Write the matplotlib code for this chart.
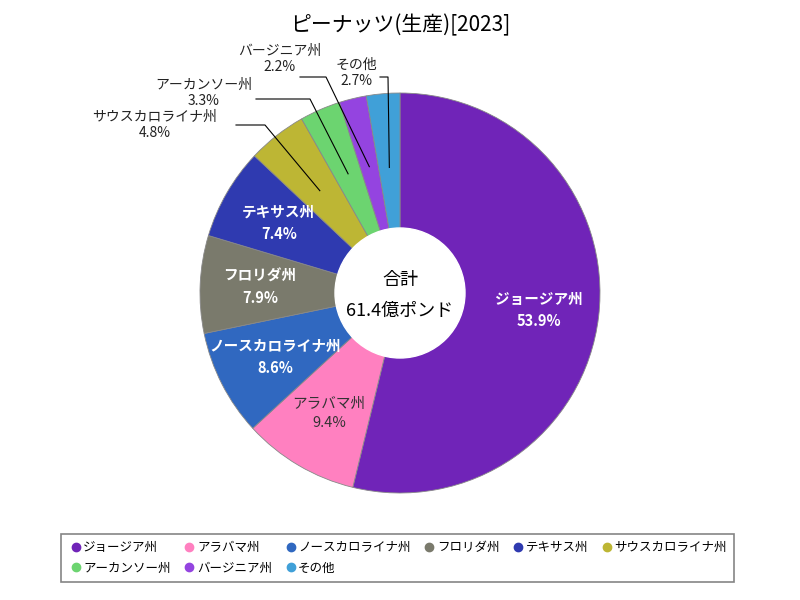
import matplotlib.pyplot as plt
from matplotlib.lines import Line2D
import numpy as np

plt.rcParams['font.family'] = ['Noto Sans CJK JP', 'DejaVu Sans']

# data
labels = ['ジョージア州', 'アラバマ州', 'ノースカロライナ州', 'フロリダ州', 'テキサス州',
          'サウスカロライナ州', 'アーカンソー州', 'バージニア州', 'その他']
shares = [53.9, 9.4, 8.6, 7.9, 7.4, 4.8, 3.3, 2.2, 2.7]
colors = ['#7024b8', '#ff80c0', '#3068c0', '#7a7a6c', '#2f3ab0',
          '#bdb634', '#6cd470', '#9444e0', '#40a0d8']
total_text = '61.4億ポンド'

fig = plt.figure(figsize=(8, 6), dpi=100)
ax = fig.add_axes([0, 0, 1, 1])

wedges, _ = ax.pie(shares, colors=colors, startangle=90, counterclock=False,
                   radius=1.0, wedgeprops=dict(edgecolor='#888888', linewidth=0.6))
ax.add_patch(plt.Circle((0, 0), 0.325, color='white', zorder=5))
ax.set_xlim(-2, 2)
ax.set_ylim(-1.535, 1.465)
ax.set_aspect('auto')
ax.axis('off')

# inner labels
tot = sum(shares)
ang = 90.0
mids = []
for v in shares:
    a = ang - 360 * v / tot / 2
    mids.append(np.deg2rad(a))
    ang -= 360 * v / tot

inner_col = ['white', '#333333', 'white', 'white', 'white']
for i in range(5):
    x, y = 0.7 * np.cos(mids[i]), 0.7 * np.sin(mids[i])
    ax.text(x, y, f'{labels[i]}\n{shares[i]}%', ha='center', va='center',
            color=inner_col[i], fontsize=10.5, linespacing=1.5,
            fontweight='bold' if inner_col[i] == 'white' else 'normal', zorder=6)

# outer labels with leader lines
outer = {5: ((-1.225, 0.84), (-0.82, 0.84), (-0.675, 0.84)),
         6: ((-0.98, 1.0), (-0.72, 0.97), (-0.45, 0.97)),
         7: ((-0.60, 1.17), (-0.50, 1.08), (-0.37, 1.08)),
         8: ((-0.22, 1.10), (-0.10, 1.08), (-0.06, 1.08))}
for i, (tpos, p0, p1) in outer.items():
    r = 0.65 if i != 8 else 0.63
    px, py = r * np.cos(mids[i]), r * np.sin(mids[i])
    ax.plot([p0[0], p1[0], px], [p0[1], p1[1], py], color='black', lw=0.8, zorder=3)
    ax.text(tpos[0], tpos[1], f'{labels[i]}\n{shares[i]}%', ha='center', va='center',
            color='#222222', fontsize=10, linespacing=1.15, zorder=7)

ax.text(0, 0.065, '合計', ha='center', va='center', fontsize=13, zorder=8)
ax.text(0, -0.09, total_text, ha='center', va='center', fontsize=13, zorder=8,
        bbox=dict(facecolor='white', edgecolor='none', pad=1))

fig.text(0.5, 0.958, 'ピーナッツ(生産)[2023]', ha='center', va='center', fontsize=15)

handles = [Line2D([], [], marker='o', ls='', color=c, markersize=6) for c in colors]
order = [0, 6, 1, 7, 2, 8, 3, 4, 5]
leg = fig.legend([handles[k] for k in order], [labels[k] for k in order],
                 loc='center', bbox_to_anchor=(0.497, 0.07), ncol=6, fontsize=9,
                 frameon=True, fancybox=False, edgecolor='#666666',
                 handletextpad=0.0, columnspacing=0.9, borderpad=0.6,
                 handlelength=1.2, labelspacing=0.6)
leg.get_frame().set_linewidth(1.2)

fig.savefig('out.png', dpi=100)
